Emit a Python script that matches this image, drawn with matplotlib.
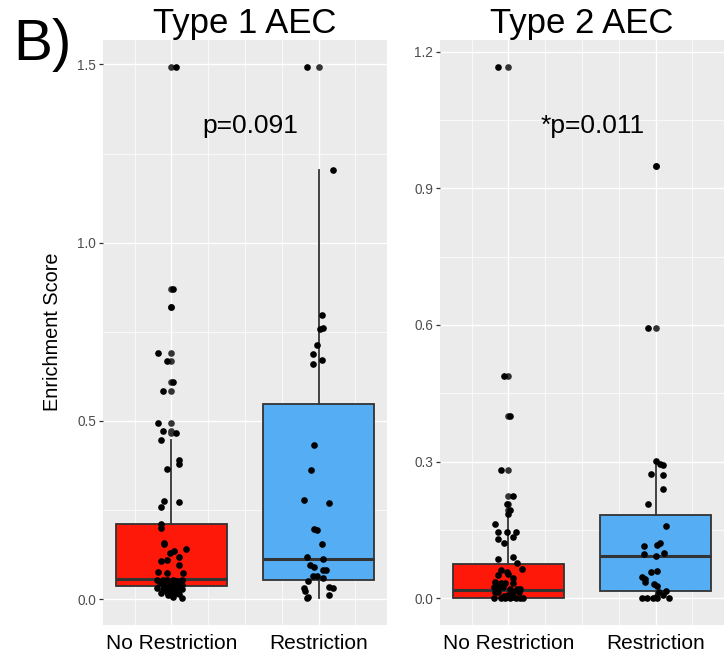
import numpy as np
import matplotlib
matplotlib.use('Agg')
import matplotlib.pyplot as plt

plt.rcParams['font.family'] = ['Liberation Sans', 'DejaVu Sans']

groups = ['No Restriction', 'Restriction']

# Type 1 AEC enrichment scores, with the jitter offset of each point
t1_norestr = [1.493, 0.870, 0.819, 0.690, 0.669, 0.609, 0.585, 0.494, 0.471, 0.467,
              0.447, 0.389, 0.378, 0.366, 0.275, 0.273, 0.259, 0.210, 0.200, 0.158,
              0.155, 0.142, 0.135, 0.130, 0.117, 0.111, 0.106, 0.097, 0.075, 0.074,
              0.072, 0.055, 0.053, 0.055, 0.053, 0.051, 0.055, 0.044, 0.041, 0.039,
              0.041, 0.044, 0.041, 0.030, 0.027, 0.030, 0.025, 0.030, 0.027, 0.018,
              0.021, 0.016, 0.018, 0.014, 0.011, 0.006, 0.004]
t1_norestr_jit = [0.03, 0.01, 0.00, -0.09, -0.03, 0.01, -0.06, -0.09, -0.06, 0.03,
                  -0.07, 0.05, 0.05, -0.03, -0.05, 0.05, -0.07, -0.07, -0.07, -0.05,
                  -0.05, 0.10, 0.02, -0.01, 0.05, -0.03, -0.07, 0.05, -0.09, 0.08,
                  -0.03, -0.10, -0.06, -0.03, 0.01, 0.04, 0.07, -0.08, -0.05, -0.01,
                  0.02, 0.05, 0.07, -0.10, -0.06, -0.03, 0.01, 0.04, 0.07, -0.07,
                  -0.03, 0.00, 0.03, 0.05, -0.02, 0.01, 0.07]
t1_restr = [1.494, 1.204, 0.798, 0.760, 0.757, 0.713, 0.688, 0.672, 0.660, 0.433,
            0.363, 0.279, 0.271, 0.196, 0.193, 0.154, 0.118, 0.112, 0.097, 0.090,
            0.081, 0.081, 0.064, 0.064, 0.058, 0.051, 0.033, 0.030, 0.030, 0.023,
            0.011, 0.006, 0.002]
t1_restr_jit = [-0.08, 0.10, 0.02, 0.03, 0.01, -0.01, -0.04, 0.02, -0.04, -0.03,
                -0.05, -0.10, 0.07, -0.03, -0.01, 0.02, -0.08, 0.03, -0.06, -0.03,
                0.03, 0.05, -0.04, -0.01, 0.03, -0.07, 0.07, 0.10, -0.10, -0.09,
                0.07, -0.07, -0.08]

# Type 2 AEC
t2_norestr = [1.167, 0.488, 0.401, 0.281, 0.224, 0.208, 0.195, 0.185, 0.164, 0.145,
              0.145, 0.145, 0.134, 0.130, 0.121, 0.090, 0.087, 0.078, 0.065, 0.063,
              0.059, 0.053, 0.052, 0.045, 0.036, 0.034, 0.034, 0.034, 0.026, 0.026,
              0.026, 0.021, 0.021, 0.020, 0.013, 0.013, 0.013, 0.013, 0.008, 0.005,
              0.003, 0.000, 0.000, 0.000, 0.000, 0.000, 0.000, 0.000]
t2_norestr_jit = [-0.07, -0.03, 0.01, -0.05, 0.03, -0.01, 0.01, 0.00, -0.09, -0.07,
                  -0.01, 0.05, 0.03, -0.07, -0.03, 0.03, -0.07, 0.06, 0.09, -0.05,
                  -0.01, 0.00, -0.07, 0.03, -0.09, -0.05, -0.02, 0.03, -0.10, -0.07,
                  -0.04, 0.01, 0.06, 0.08, -0.09, -0.07, 0.03, 0.07, 0.00, -0.03,
                  0.03, -0.10, -0.05, -0.02, 0.01, 0.05, 0.08, 0.10]
t2_restr = [0.948, 0.593, 0.301, 0.295, 0.292, 0.274, 0.270, 0.239, 0.207, 0.158,
            0.122, 0.118, 0.116, 0.100, 0.097, 0.094, 0.061, 0.059, 0.048, 0.043,
            0.036, 0.031, 0.028, 0.017, 0.014, 0.008, 0.004, 0.000, 0.000, 0.000,
            0.000, 0.000]
t2_restr_jit = [0.00, -0.05, 0.00, 0.03, 0.05, -0.03, 0.05, 0.05, -0.05, 0.07,
                0.03, 0.01, -0.08, 0.06, -0.08, 0.00, 0.01, -0.03, -0.09, -0.07,
                -0.07, -0.01, 0.01, 0.07, 0.02, 0.05, 0.00, -0.09, -0.06, -0.02,
                0.01, 0.09]

# box statistics per group: q1, median, q3, lower whisker, upper whisker
t1_box = [(0.038, 0.057, 0.210, 0.004, 0.447), (0.055, 0.113, 0.548, 0.002, 1.204)]
t2_box = [(0.001, 0.019, 0.075, 0.000, 0.185), (0.017, 0.092, 0.184, 0.000, 0.301)]

p_labels = ['p=0.091', '*p=0.011']
box_colors = ['#FE1809', '#55AEF3']
W, H = 724, 663


def draw_panel(ax, vals, jits, boxes, major, minor, title, ptxt, pxy):
    ax.set_facecolor('#EBEBEB')
    for s in ax.spines.values():
        s.set_visible(False)

    stats = []
    for v, (q1, med, q3, lo, hi) in zip(vals, boxes):
        v = np.asarray(v)
        stats.append(dict(q1=q1, med=med, q3=q3, whislo=lo, whishi=hi,
                          fliers=v[(v > hi) | (v < lo)]))
    bp = ax.bxp(stats, positions=[1, 2], widths=0.755, patch_artist=True,
                showcaps=False, manage_ticks=False,
                boxprops=dict(edgecolor='#333333', linewidth=1.3),
                whiskerprops=dict(color='#333333', linewidth=1.3),
                medianprops=dict(color='#333333', linewidth=2.2),
                flierprops=dict(marker='o', markerfacecolor='#333333',
                                markeredgecolor='none', markersize=4.8))
    for patch, c in zip(bp['boxes'], box_colors):
        patch.set_facecolor(c)

    for i, (v, j) in enumerate(zip(vals, jits)):
        ax.plot(i + 1 + np.asarray(j), v, 'o', color='black', ms=4.8,
                mec='none', zorder=5)

    allv = np.concatenate([np.asarray(v) for v in vals])
    span = allv.max() - allv.min()
    ax.set_ylim(allv.min() - 0.05 * span, allv.max() + 0.05 * span)
    ax.set_xlim(0.535, 2.465)

    # grid
    ax.set_yticks(major)
    ax.set_yticks(minor, minor=True)
    ax.set_xticks([1, 2])
    ax.set_xticks([0.75, 1.25, 1.5, 1.75, 2.25], minor=True)
    ax.grid(which='major', color='white', lw=1.0)
    ax.grid(which='minor', color='white', lw=0.5)
    ax.set_axisbelow(True)

    ax.set_xticklabels(groups, fontsize=15, color='black')
    ax.set_yticklabels([f'{t:.1f}' for t in major], fontsize=9.8, color='#4D4D4D')
    ax.tick_params(axis='y', which='major', length=3, width=0.9, color='#333333', pad=2)
    ax.tick_params(axis='x', which='major', length=0, pad=6.5)
    ax.tick_params(which='minor', length=0)
    ax.set_title(title, fontsize=25, pad=4)
    ax.text(pxy[0], pxy[1], ptxt, fontsize=19, ha='center', va='baseline')


fig = plt.figure(figsize=(W / 100, H / 100), dpi=100)
ax1 = fig.add_axes([103 / W, 1 - 625 / H, 284 / W, 585 / H])
ax2 = fig.add_axes([440 / W, 1 - 625 / H, 284 / W, 585 / H])

draw_panel(ax1, [t1_norestr, t1_restr], [t1_norestr_jit, t1_restr_jit], t1_box,
           [0.0, 0.5, 1.0, 1.5], [0.25, 0.75, 1.25], 'Type 1 AEC',
           p_labels[0], (1.537, 1.308))
draw_panel(ax2, [t2_norestr, t2_restr], [t2_norestr_jit, t2_restr_jit], t2_box,
           [0.0, 0.3, 0.6, 0.9, 1.2], [0.15, 0.45, 0.75, 1.05], 'Type 2 AEC',
           p_labels[1], (1.574, 1.022))

fig.text(53 / W, 1 - 332 / H, 'Enrichment Score', rotation=90, fontsize=14.3,
         ha='center', va='center')
fig.text(13 / W, 1 - 60 / H, 'B)', fontsize=42, ha='left', va='baseline')

fig.savefig('out.png', dpi=100)
